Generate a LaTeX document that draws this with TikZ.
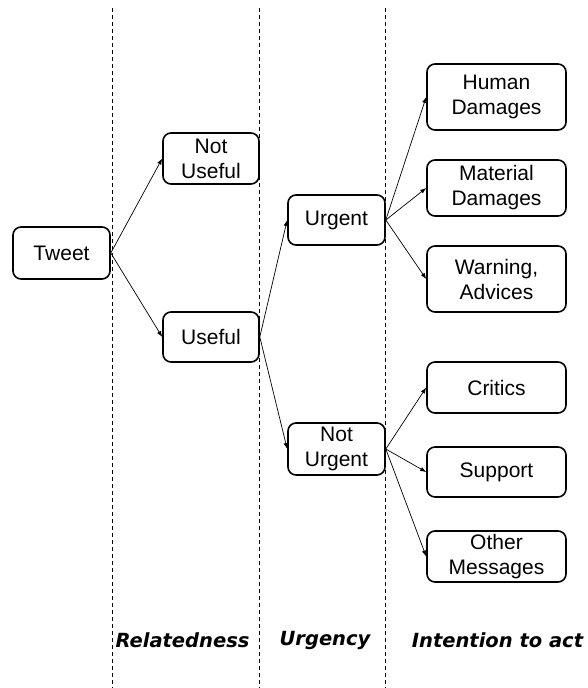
\documentclass[tikz,border=0pt]{standalone}
\usepackage{fontspec}
\setmainfont{Liberation Sans}
\newfontfamily\labelfont{DejaVu Sans}
\usetikzlibrary{arrows.meta}
\begin{document}
\begin{tikzpicture}[x=1pt,y=-1pt,>={Latex[length=6pt,width=4.5pt]},
    box/.style={draw, line width=1.6pt, rounded corners=8pt, align=center, inner sep=0pt,
      font=\fontsize{21}{25}\selectfont},
    col/.style={font=\labelfont\bfseries\itshape\fontsize{19.5}{22}\selectfont},
    sep/.style={dash pattern=on 4pt off 3pt, line width=0.9pt}]
    \useasboundingbox (0,0) rectangle (587,688);
    \draw [sep] (112,8) -- (112,688);
    \draw [sep] (259,8) -- (259,688);
    \draw [sep] (385,8) -- (385,688);
    \node [box, minimum width=97pt, minimum height=52pt] (tweet) at (61.5,253) {Tweet};
    \node [box, minimum width=96pt, minimum height=51pt] (notuseful) at (211,158.5) {Not\\Useful};
    \node [box, minimum width=96pt, minimum height=50pt] (useful) at (211,337) {Useful};
    \node [box, minimum width=97pt, minimum height=50pt] (urgent) at (336.5,220) {Urgent};
    \node [box, minimum width=97pt, minimum height=52pt] (noturgent) at (336.5,449) {Not\\Urgent};
    \node [box, minimum width=139pt, minimum height=66pt] (human) at (496.5,97) {Human\\Damages};
    \node [box, minimum width=139pt, minimum height=56pt] (material) at (496.5,188) {Material\\Damages};
    \node [box, minimum width=139pt, minimum height=66pt] (warning) at (496.5,279) {Warning,\\Advices};
    \node [box, minimum width=139pt, minimum height=51pt] (critics) at (496.5,387.5) {Critics};
    \node [box, minimum width=139pt, minimum height=50pt] (support) at (496.5,472) {Support};
    \node [box, minimum width=139pt, minimum height=51pt] (other) at (496.5,556.5) {Other\\Messages};
    \draw [->, line width=0.7pt] (tweet.east) -- (notuseful.west);
    \draw [->, line width=0.7pt] (tweet.east) -- (useful.west);
    \draw [->, line width=0.7pt] (useful.east) -- (urgent.west);
    \draw [->, line width=0.7pt] (useful.east) -- (noturgent.west);
    \draw [->, line width=0.7pt] (urgent.east) -- (human.west);
    \draw [->, line width=0.7pt] (urgent.east) -- (material.west);
    \draw [->, line width=0.7pt] (urgent.east) -- (warning.west);
    \draw [->, line width=0.7pt] (noturgent.east) -- (critics.west);
    \draw [->, line width=0.7pt] (noturgent.east) -- (support.west);
    \draw [->, line width=0.7pt] (noturgent.east) -- (other.west);
    \node [col] (relatedness) at (182.5,640) {Relatedness};
    \node [col] (urgency) at (325,640) {Urgency};
    \node [col] (intention) at (497.5,640) {Intention to act};
\end{tikzpicture}
\end{document}
